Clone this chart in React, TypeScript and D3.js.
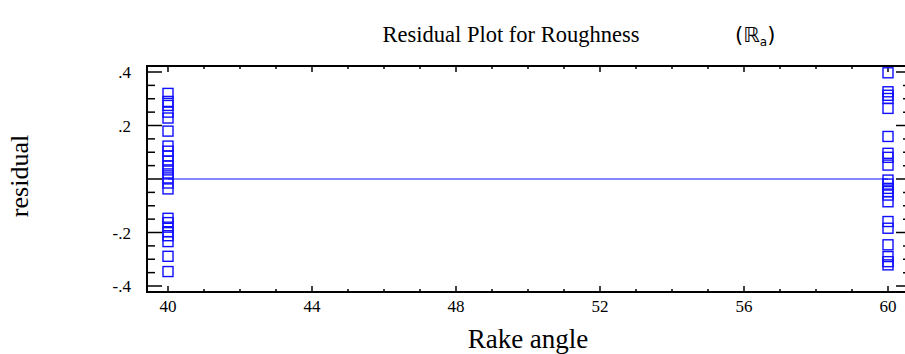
import React from "react";
import * as d3 from "d3";

// Residuals of the roughness model, grouped by rake angle level
const rakeAngles = [40, 60];
const residualsAt40 = [
  0.32, 0.29, 0.275, 0.25, 0.228, 0.179, 0.123, 0.104, 0.086, 0.067, 0.049,
  0.034, 0.019, 0.004, -0.015, -0.037, -0.147, -0.163, -0.18, -0.197, -0.212,
  -0.234, -0.289, -0.346,
];
const residualsAt60 = [
  0.397, 0.326, 0.313, 0.301, 0.264, 0.159, 0.096, 0.081, 0.052, -0.004,
  -0.019, -0.035, -0.047, -0.06, -0.085, -0.159, -0.184, -0.246, -0.29,
  -0.309, -0.321,
];
const xMajorTicks = [40, 44, 48, 52, 56, 60];
const yMajorTicks = [-0.4, -0.2, 0, 0.2, 0.4];
const yTickLabels = ["-.4", "-.2", "", ".2", ".4"];

const W = 905;
const H = 354;

export default function App() {
  const x = d3.scaleLinear().domain([40, 60]).range([168, 888]);
  const y = d3.scaleLinear().domain([-0.4, 0.4]).range([286, 72]);

  const frameLeft = x(39.417);
  const frameRight = x(60.64);
  const frameTop = 66;
  const frameBottom = 292;

  const xMinor = d3.range(40, 61, 1).filter((v) => !xMajorTicks.includes(v));
  const yMinor = d3
    .range(-8, 9, 1)
    .map((i) => i * 0.05)
    .filter((v) => !yMajorTicks.some((m) => Math.abs(m - v) < 1e-9));

  const points = [
    ...residualsAt40.map((r) => ({ a: rakeAngles[0], r })),
    ...residualsAt60.map((r) => ({ a: rakeAngles[1], r })),
  ];

  const serif = "'Liberation Serif', 'Times New Roman', serif";
  const blue = "#0f0fff";
  const size = 10;

  return (
    <svg
      width={W}
      height={H}
      style={{ position: "absolute", left: 0, top: 0, background: "#fff" }}
      fontFamily={serif}
    >
      <rect x={0} y={0} width={W} height={H} fill="#fff" />

      {/* title */}
      <text x={511} y={42} fontSize={22.5} textAnchor="middle" fill="#000">
        Residual Plot for Roughness
      </text>
      <text x={735} y={42} fontSize={21} fill="#000" fontFamily="'DejaVu Sans', sans-serif">
        (ℝ
        <tspan fontSize={12} dy={4}>a</tspan>
        <tspan dy={-4}>)</tspan>
      </text>

      {/* zero reference line */}
      <line x1={x(40)} x2={x(60)} y1={y(0)} y2={y(0)} stroke={blue} strokeWidth={1.2} />

      {/* frame */}
      <rect
        x={frameLeft}
        y={frameTop}
        width={frameRight - frameLeft}
        height={frameBottom - frameTop}
        fill="none"
        stroke="#000"
        strokeWidth={2}
      />

      {/* x ticks, bottom and top */}
      {xMajorTicks.map((v) => (
        <g key={"xm" + v}>
          <line x1={x(v)} x2={x(v)} y1={frameBottom} y2={frameBottom - 6} stroke="#000" strokeWidth={1.5} />
          <line x1={x(v)} x2={x(v)} y1={frameTop} y2={frameTop + 6} stroke="#000" strokeWidth={1.5} />
          <text x={x(v)} y={312} fontSize={17} textAnchor="middle" fill="#000">
            {v}
          </text>
        </g>
      ))}
      {xMinor.map((v) => (
        <g key={"xn" + v}>
          <line x1={x(v)} x2={x(v)} y1={frameBottom} y2={frameBottom - 3} stroke="#000" strokeWidth={1.5} />
          <line x1={x(v)} x2={x(v)} y1={frameTop} y2={frameTop + 3} stroke="#000" strokeWidth={1.5} />
        </g>
      ))}

      {/* y ticks, left and right */}
      {yMajorTicks.map((v, i) => (
        <g key={"ym" + v}>
          <line x1={frameLeft} x2={frameLeft + 15} y1={y(v)} y2={y(v)} stroke="#000" strokeWidth={1.5} />
          <line x1={frameRight} x2={frameRight - 15} y1={y(v)} y2={y(v)} stroke="#000" strokeWidth={1.5} />
          <text x={131} y={y(v) + 6} fontSize={17} textAnchor="end" fill="#000">
            {yTickLabels[i]}
          </text>
        </g>
      ))}
      {yMinor.map((v) => (
        <g key={"yn" + v}>
          <line x1={frameLeft} x2={frameLeft + 8} y1={y(v)} y2={y(v)} stroke="#000" strokeWidth={1.5} />
          <line x1={frameRight} x2={frameRight - 8} y1={y(v)} y2={y(v)} stroke="#000" strokeWidth={1.5} />
        </g>
      ))}

      {/* residual markers */}
      {points.map((p, i) => (
        <rect
          key={i}
          x={x(p.a) - size / 2}
          y={y(p.r) - size / 2}
          width={size}
          height={size}
          fill="none"
          stroke={blue}
          strokeWidth={1.4}
        />
      ))}

      {/* axis titles */}
      <text x={528} y={348} fontSize={27} textAnchor="middle" fill="#000">
        Rake angle
      </text>
      <text
        transform={`translate(28, 176) rotate(-90)`}
        fontSize={26}
        textAnchor="middle"
        fill="#000"
      >
        residual
      </text>
    </svg>
  );
}
